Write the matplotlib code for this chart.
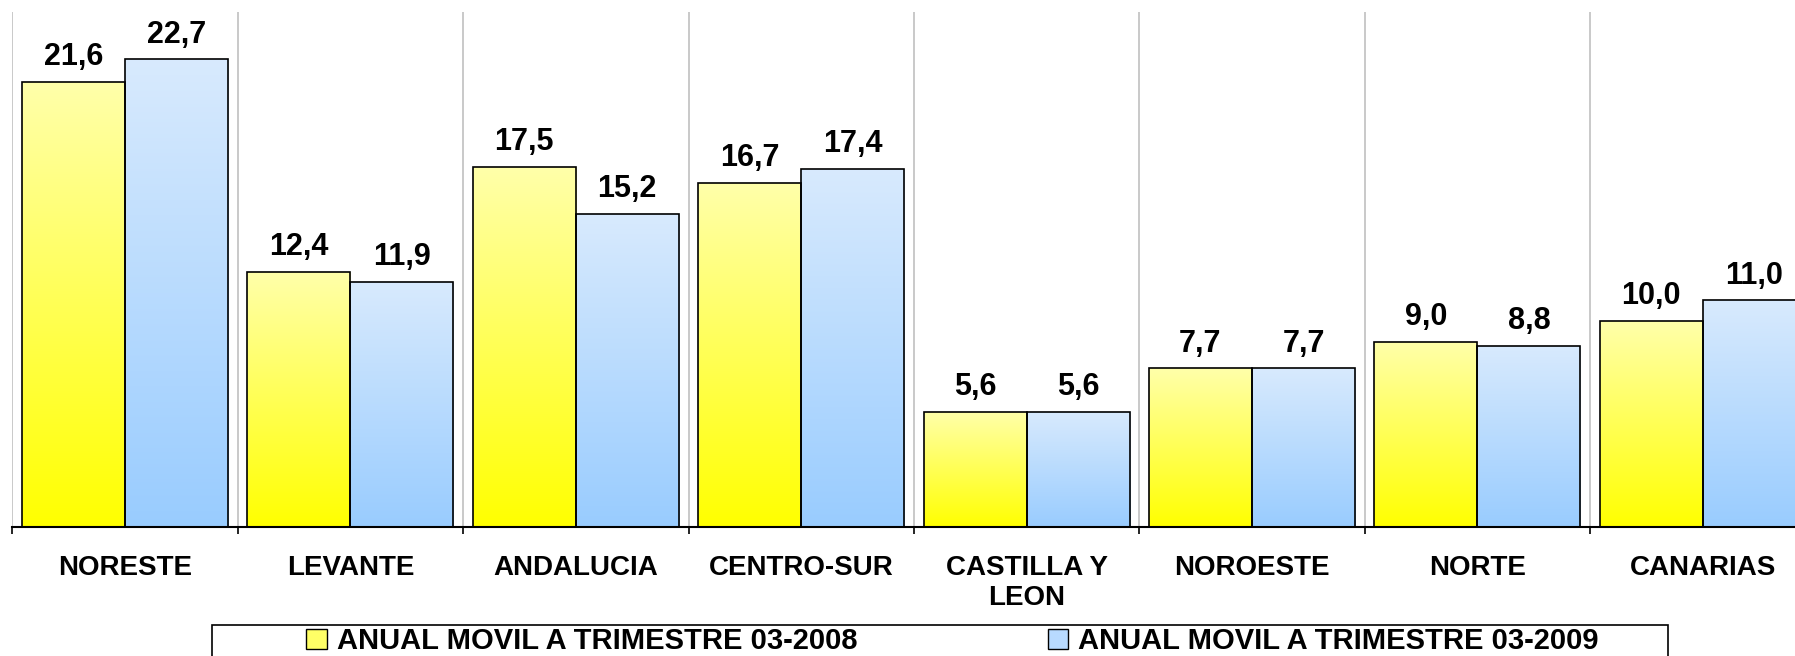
import numpy as np
import matplotlib.pyplot as plt
from matplotlib.colors import LinearSegmentedColormap
from matplotlib.patches import Patch, Rectangle

regiones = ['NORESTE', 'LEVANTE', 'ANDALUCIA', 'CENTRO-SUR', 'CASTILLA Y\nLEON',
            'NOROESTE', 'NORTE', 'CANARIAS']
anual_2008 = [21.6, 12.4, 17.5, 16.7, 5.6, 7.7, 9.0, 10.0]
anual_2009 = [22.7, 11.9, 15.2, 17.4, 5.6, 7.7, 8.8, 11.0]
series = ['ANUAL MOVIL A TRIMESTRE 03-2008', 'ANUAL MOVIL A TRIMESTRE 03-2009']

plt.rcParams['font.family'] = ['Liberation Sans', 'DejaVu Sans']
plt.rcParams['font.weight'] = 'bold'

# vertical gradients: bottom colour first, top colour last
cmap_amarillo = LinearSegmentedColormap.from_list('amarillo', ['#FFFF00', '#FFFFAA'])
cmap_azul = LinearSegmentedColormap.from_list('azul', ['#99CCFF', '#D8EAFD'])
grad = np.linspace(0, 1, 256).reshape(-1, 1)

fig = plt.figure(figsize=(17.95, 6.56), dpi=100)
ax = fig.add_axes([12.3 / 1795, 129 / 656, 1803.2 / 1795, 515 / 656])

x = np.arange(len(regiones))
w = 0.457

b1 = ax.bar(x - w / 2, anual_2008, w, facecolor='none', edgecolor='black', linewidth=1.2, zorder=3)
b2 = ax.bar(x + w / 2, anual_2009, w, facecolor='none', edgecolor='black', linewidth=1.2, zorder=3)

for bars, cmap in [(b1, cmap_amarillo), (b2, cmap_azul)]:
    for bar in bars:
        x0 = bar.get_x()
        h = bar.get_height()
        im = ax.imshow(grad, cmap=cmap, origin='lower', aspect='auto',
                       extent=[x0, x0 + bar.get_width(), 0, h], zorder=2)
        im.set_clip_path(bar)
        txt = f'{h:.1f}'.replace('.', ',')
        ax.annotate(txt, (x0 + bar.get_width() / 2, h), xytext=(0, 7),
                    textcoords='offset points', ha='center', va='bottom',
                    fontsize=22, fontweight='bold')

ax.set_xlim(-0.5, len(regiones) - 0.5)
ax.set_ylim(0, 25)
ax.set_yticks([])

ax.set_xticks(np.arange(len(regiones) + 1) - 0.5)
ax.set_xticklabels([])
ax.set_xticks(x, minor=True)
ax.set_xticklabels(regiones, minor=True, fontsize=20, fontweight='bold')
ax.tick_params(axis='x', which='major', direction='out', length=5, width=1.2, color='black')
ax.tick_params(axis='x', which='minor', length=0, pad=20)
ax.xaxis.grid(True, which='major', color='#C0C0C0', linewidth=1.2)
ax.set_axisbelow(True)

for s in ['top', 'right', 'left']:
    ax.spines[s].set_visible(False)
ax.spines['bottom'].set_linewidth(1.5)

handles = [Patch(facecolor='#FFFF66', edgecolor='black'),
           Patch(facecolor='#B8DAFF', edgecolor='black')]
fig.legend(handles, series, loc='center', bbox_to_anchor=(952.5 / 1795, 15 / 656),
           ncol=2, frameon=False, fontsize=21, handlelength=0.7, handleheight=0.7,
           handletextpad=0.35, columnspacing=6.53)
fig.add_artist(Rectangle((212 / 1795, -0.05), 1456 / 1795, 0.05 + 31 / 656,
                         transform=fig.transFigure, fill=False, edgecolor='black', linewidth=1.2))

fig.savefig('out.png', dpi=100)
